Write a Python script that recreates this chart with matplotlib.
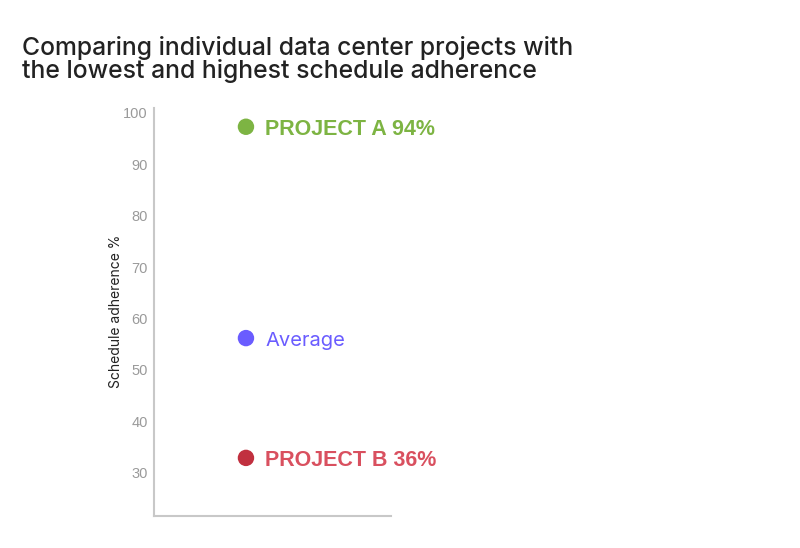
import matplotlib
matplotlib.use("Agg")
import matplotlib.pyplot as plt

# Data
labels = ["PROJECT A 94%", "Average", "PROJECT B 36%"]
values = [97.3, 56.2, 32.9]
point_colors = ["#7db443", "#6a5cff", "#c1303f"]
text_colors = ["#7db443", "#6a5cff", "#d9505f"]
text_weights = ["bold", "normal", "bold"]
text_families = [["Liberation Sans", "DejaVu Sans"], ["Inter", "DejaVu Sans"], ["Liberation Sans", "DejaVu Sans"]]
text_sizes = [15.5, 14.5, 15.5]
yticks = [30, 40, 50, 60, 70, 80, 90, 100]
title_lines = ["Comparing individual data center projects with",
               "the lowest and highest schedule adherence"]

plt.rcParams['font.family'] = ['Inter', 'DejaVu Sans']

fig = plt.figure(figsize=(8, 5.48), dpi=100)
ax = fig.add_axes([0.1925, 0.0584, 0.29625, 0.745])

x = [0.0] * len(values)
ax.scatter(x, values, s=140, c=point_colors, zorder=3, linewidths=0)
for xi, v, lab, tc, w, fam, fs in zip(x, values, labels, text_colors, text_weights, text_families, text_sizes):
    ax.annotate(lab, (xi, v), xytext=(14, -2), textcoords="offset points",
                va="center", ha="left", color=tc, fontsize=fs, fontweight=w, family=fam)

ax.set_xlim(-0.388, 0.612)
ax.set_ylim(21.6, 101)
ax.set_yticks(yticks)
ax.set_xticks([])
for s in ["top", "right"]:
    ax.spines[s].set_visible(False)
for s in ["left", "bottom"]:
    ax.spines[s].set_color("#c8c8c8")
    ax.spines[s].set_linewidth(1.5)
ax.tick_params(axis="y", length=0, pad=4.5, labelcolor="#9a9a9a", labelsize=10.5)
for t in ax.get_yticklabels():
    t.set_family(["Liberation Sans", "DejaVu Sans"])
ax.set_ylabel("Schedule adherence %", fontsize=10, color="#222222", labelpad=0)

for i, line in enumerate(title_lines):
    fig.text(0.0275, 1 - (55 + 23 * i) / 548, line, fontsize=17.8, fontweight=500,
             color="#222222", va="baseline", ha="left")

fig.savefig("out.png", dpi=100)
